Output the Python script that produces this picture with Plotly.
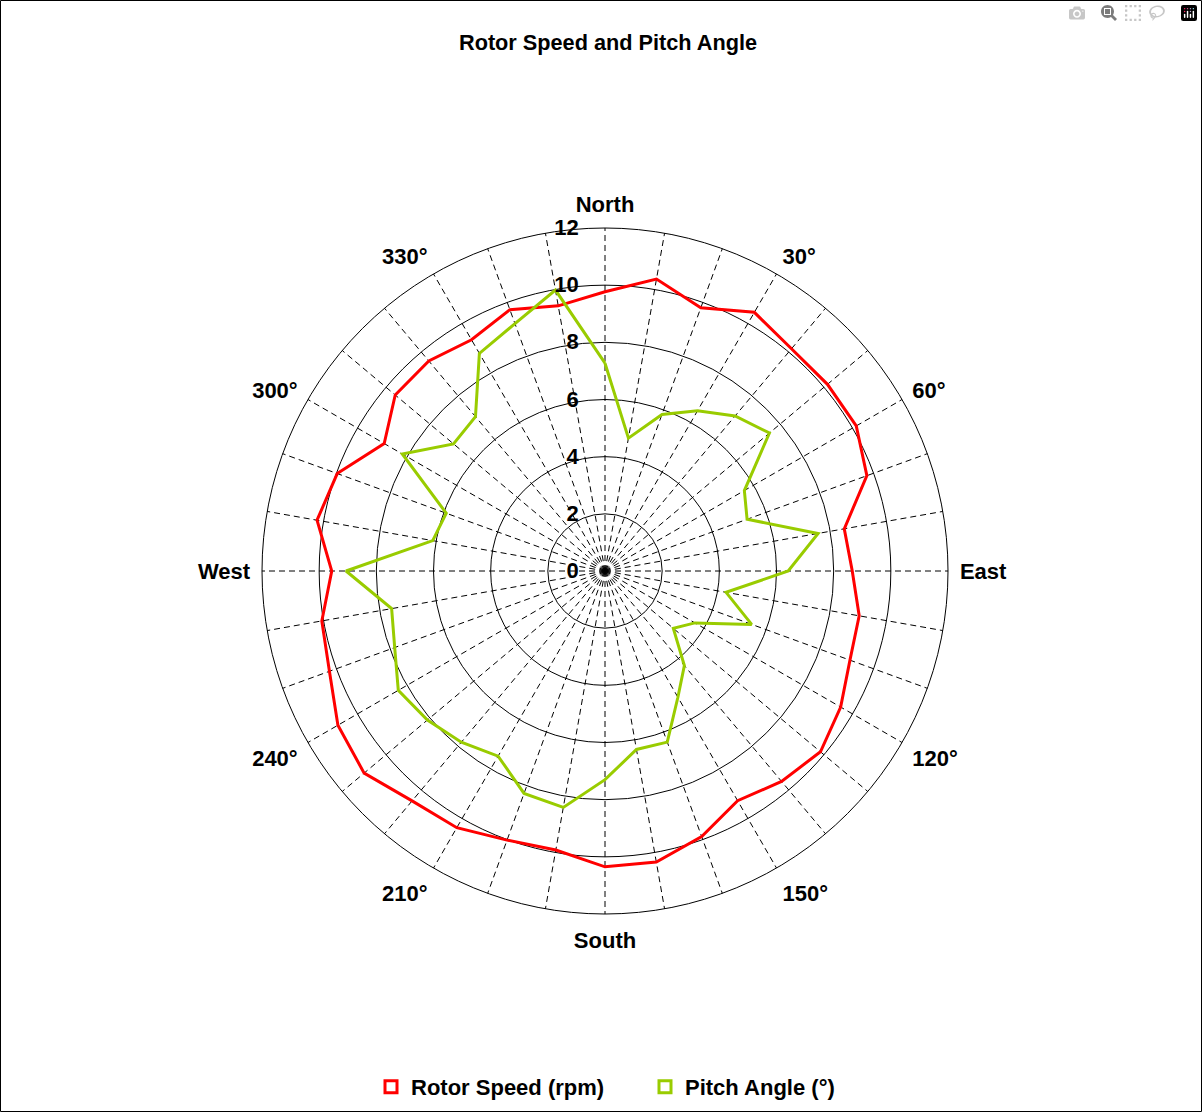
import plotly.graph_objects as go

# ---- data ----
directions = list(range(0, 360, 10))
rotor_speed = [9.77, 10.37, 9.80, 10.45, 10.15, 10.16, 10.15, 9.75, 8.50, 8.65,
               9.03, 9.12, 9.52, 9.84, 9.61, 9.28, 9.89, 10.34, 10.35, 9.91,
               10.02, 10.37, 10.50, 11.00, 10.79, 10.26, 10.06, 9.56, 10.23, 9.97,
               8.92, 9.58, 9.59, 9.34, 9.73, 9.42]
pitch_angle = [7.27, 4.72, 5.83, 6.47, 7.08, 7.51, 5.63, 5.29, 7.57, 6.41,
               4.30, 5.46, 3.63, 3.12, 4.32, 5.10, 6.37, 6.34, 7.30, 8.40,
               8.28, 7.48, 7.82, 8.11, 8.35, 7.83, 7.58, 9.06, 6.12, 5.91,
               8.19, 6.92, 7.05, 8.79, 9.21, 9.98]
angular_labels = {0: "North", 30: "30°", 60: "60°", 90: "East", 120: "120°", 150: "150°",
                  180: "South", 210: "210°", 240: "240°", 270: "West", 300: "300°", 330: "330°"}
radial_ticks = [0, 2, 4, 6, 8, 10, 12]

RED = "#ff0000"
GREEN = "#99cc00"
FONT = "Liberation Sans, Arial, Helvetica, sans-serif"

W, H = 1203, 1113
cx, cy, R = 605, 571, 343

fig = go.Figure()

def closed(vals):
    return list(vals) + [vals[0]]

fig.add_trace(go.Scatterpolar(r=closed(rotor_speed), theta=closed(directions), mode="lines",
                              line=dict(color=RED, width=3), showlegend=False,
                              name="Rotor Speed (rpm)"))
fig.add_trace(go.Scatterpolar(r=closed(pitch_angle), theta=closed(directions), mode="lines",
                              line=dict(color=GREEN, width=3), showlegend=False,
                              name="Pitch Angle (°)"))
# legend entries with hollow square symbols
for name, col in [("Rotor Speed (rpm)", RED), ("Pitch Angle (°)", GREEN)]:
    fig.add_trace(go.Scatterpolar(r=[None], theta=[None], mode="markers", name=name,
                                  marker=dict(symbol="square-open", size=12, color=col,
                                              line=dict(width=3, color=col))))

fig.update_layout(
    width=W, height=H,
    margin=dict(l=0, r=0, t=0, b=0, autoexpand=False),
    paper_bgcolor="white",
    font=dict(family=FONT, color="black", size=21),
    title=dict(text="Rotor Speed and Pitch Angle", x=608 / W, xanchor="center",
               y=1 - 42 / H, yanchor="middle", yref="container",
               font=dict(family=FONT, size=21.7, weight="bold", color="black")),
    polar=dict(
        domain=dict(x=[(cx - R) / W, (cx + R) / W], y=[1 - (cy + R) / H, 1 - (cy - R) / H]),
        bgcolor="white",
        gridshape="linear",
        angularaxis=dict(rotation=90, direction="clockwise",
                         tickmode="array", tickvals=directions,
                         ticktext=[angular_labels.get(d, "") for d in directions],
                         tickfont=dict(family=FONT, size=22, weight="bold", color="black"),
                         showline=True, linecolor="black", linewidth=1,
                         showgrid=True, gridcolor="black", gridwidth=1, griddash="6px,4px",
                         ticks="outside", ticklen=7, tickcolor="rgba(0,0,0,0)"),
        radialaxis=dict(range=[0, 12], tickmode="array", tickvals=radial_ticks,
                        angle=90, side="counterclockwise",
                        showline=False, ticks="outside", ticklen=18,
                        tickcolor="rgba(0,0,0,0)", tickangle=90,
                        tickfont=dict(family=FONT, size=22, weight="bold", color="black"),
                        showgrid=True, gridcolor="black", gridwidth=1),
    ),
    legend=dict(orientation="h", x=645 / W, xanchor="center", y=1 - 1087 / H, yanchor="middle",
                yref="container", entrywidth=229, entrywidthmode="pixels",
                font=dict(family=FONT, size=22, weight="bold", color="black"),
                bgcolor="rgba(0,0,0,0)"),
    shapes=[dict(type="rect", xref="paper", yref="paper", x0=0.5 / W, x1=1 - 1.5 / W,
                 y0=1.5 / H, y1=1 - 0.5 / H, line=dict(color="black", width=1))],
)

fig.write_html("out.html", post_script="document.body.style.margin='0px';")
